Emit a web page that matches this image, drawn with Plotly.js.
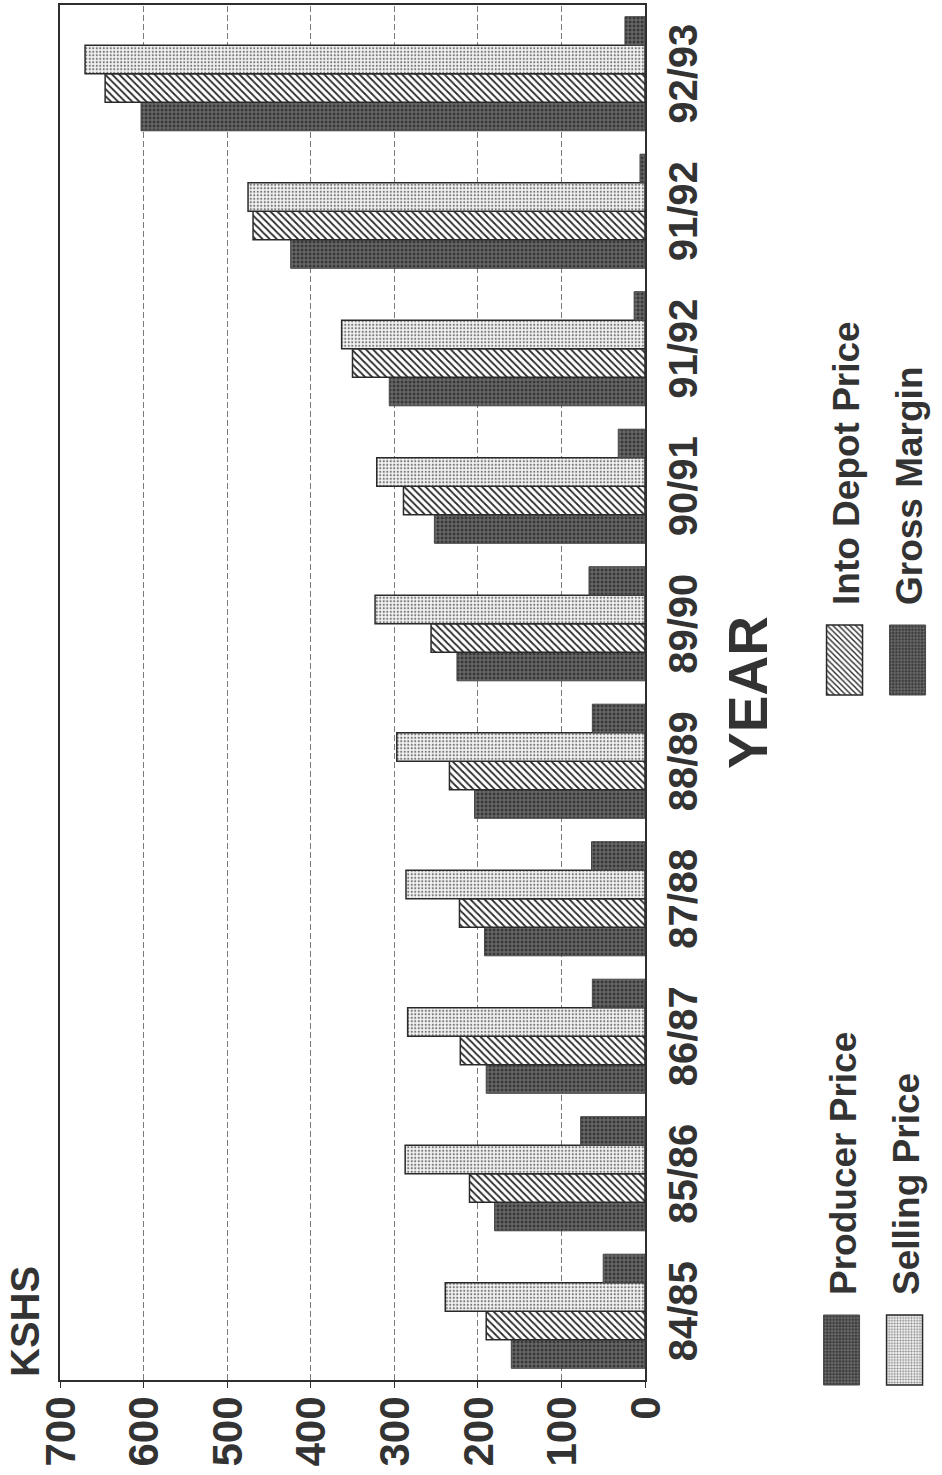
<!DOCTYPE html>
<html>
<head>
<meta charset="utf-8">
<script src="https://cdn.plot.ly/plotly-3.0.1.min.js"></script>
<style>
  html, body { margin: 0; padding: 0; width: 942px; height: 1475px; overflow: hidden; background: #ffffff; }
  /* the chart is laid out landscape and turned a quarter turn counter-clockwise onto the page */
  #chart { position: absolute; left: 0; top: 0; width: 1475px; height: 942px;
           transform-origin: 0 0; transform: translateY(1475px) rotate(-90deg); }
</style>
</head>
<body>
<div id="chart"></div>
<script>
// Crop years (the 91/92 season appears twice on the axis)
var years = ['84/85', '85/86', '86/87', '87/88', '88/89', '89/90', '90/91', '91/92', '91/92', '92/93'];

// Prices in KSHS
var producerPrice  = [160, 180, 190, 192, 204, 225, 252, 306, 424, 603];
var intoDepotPrice = [190, 210, 221, 222, 234, 256, 289, 350, 469, 646];
var sellingPrice   = [239, 287, 284, 286, 297, 323, 321, 363, 475, 670];
var grossMargin    = [ 50,  77,  63,  64,  63,  67,  32,  13,   6,  24];

var valueTicks = [0, 100, 200, 300, 400, 500, 600, 700];

var FONT = 'Liberation Sans, Arial, sans-serif';
var INK = '#333333';

// one x position per season so the repeated label keeps its own slot
var xpos = years.map(function (_, i) { return i; });

var darkFill = { color: '#5a5a5a',
  pattern: { shape: '.', fgcolor: '#383838', bgcolor: '#676767', size: 4, solidity: 0.45 },
  line: { color: '#474747', width: 1 } };

var traces = [
  { type: 'bar', name: 'Producer Price', x: xpos, y: producerPrice, legend: 'legend',
    marker: darkFill },
  { type: 'bar', name: 'Into Depot Price', x: xpos, y: intoDepotPrice, legend: 'legend3',
    marker: { color: '#ffffff',
      pattern: { shape: '/', fgcolor: '#2a2a2a', bgcolor: '#ffffff', size: 5, solidity: 0.35 },
      line: { color: '#2a2a2a', width: 1.5 } } },
  { type: 'bar', name: 'Selling Price', x: xpos, y: sellingPrice, legend: 'legend2',
    marker: { color: '#eeeeee',
      pattern: { shape: '.', fgcolor: '#7a7a7a', bgcolor: '#f4f4f4', size: 3.5, solidity: 0.35 },
      line: { color: '#2a2a2a', width: 1.5 } } },
  { type: 'bar', name: 'Gross Margin', x: xpos, y: grossMargin, legend: 'legend4',
    marker: darkFill }
];

var W = 1475, H = 942;
var M = { l: 95, r: 5, t: 60, b: 297 };
var plotH = H - M.t - M.b;
var plotW = W - M.l - M.r;

// key geometry: swatch width, height, gap between swatch and label
var KEY_W = 70, KEY_H = 36, KEY_GAP = 20;

function legendBox(left, centerFromTop) {
  return {
    orientation: 'v', x: (left - M.l) / plotW, xanchor: 'left',
    y: (H - M.b - centerFromTop) / plotH, yanchor: 'middle',
    itemwidth: 90, bgcolor: 'rgba(0,0,0,0)', borderwidth: 0,
    font: { family: FONT, size: 37, color: INK, weight: 'bold' }
  };
}

var layout = {
  width: W, height: H,
  margin: { l: M.l, r: M.r, t: M.t, b: M.b, pad: 0, autoexpand: false },
  paper_bgcolor: '#ffffff', plot_bgcolor: '#ffffff',
  barmode: 'group', bargap: 0.17, bargroupgap: 0,
  font: { family: FONT, color: INK },
  title: { text: 'KSHS', x: 98 / W, xanchor: 'left', y: 1 - 25 / H, yanchor: 'middle',
           font: { family: FONT, size: 40, color: INK, weight: 'bold' } },
  xaxis: {
    tickmode: 'array', tickvals: xpos, ticktext: years,
    range: [-0.5, 9.5], showgrid: false, zeroline: false,
    showline: true, mirror: true, linecolor: '#2e2e2e', linewidth: 2,
    ticks: '', ticklabelstandoff: 2,
    tickfont: { family: FONT, size: 40, color: INK, weight: 'bold' },
    title: { text: 'YEAR', standoff: 24,
             font: { family: FONT, size: 55, color: INK, weight: 'bold' } }
  },
  yaxis: {
    range: [0, 700], tickmode: 'array', tickvals: valueTicks,
    showgrid: true, gridcolor: '#7a7a7a', gridwidth: 1, griddash: '6px,3px',
    zeroline: false, showline: true, mirror: true, linecolor: '#2e2e2e', linewidth: 2,
    ticks: 'outside', ticklen: 6, tickcolor: '#2e2e2e',
    tickfont: { family: FONT, size: 42, color: INK, weight: 'bold' }
  },
  legend: legendBox(80, 842),
  legend2: legendBox(80, 905),
  legend3: legendBox(770, 845),
  legend4: legendBox(770, 908),
  showlegend: true
};

// draw the legend keys as wide rectangles just left of each label
function shapeKeys(gd) {
  gd.querySelectorAll('g.traces').forEach(function (tr) {
    var txt = tr.querySelector('text');
    if (!txt) return;
    var tx = parseFloat(txt.getAttribute('x')) || 0;
    var x1 = tx - KEY_GAP, x0 = x1 - KEY_W, h = KEY_H / 2;
    var d = 'M' + x0 + ',' + (-h) + 'H' + x1 + 'V' + h + 'H' + x0 + 'Z';
    tr.querySelectorAll('g.legendpoints path').forEach(function (p) {
      if (p.getAttribute('d') === d) return;
      p.setAttribute('transform', '');
      p.setAttribute('d', d);
    });
  });
}

var gd = document.getElementById('chart');
Plotly.newPlot(gd, traces, layout, { staticPlot: true, displayModeBar: false })
  .then(function () {
    shapeKeys(gd);
    gd.on('plotly_afterplot', function () { shapeKeys(gd); });
    [0, 50, 200, 600].forEach(function (ms) {
      setTimeout(function () { shapeKeys(gd); }, ms);
    });
  });
</script>
</body>
</html>
